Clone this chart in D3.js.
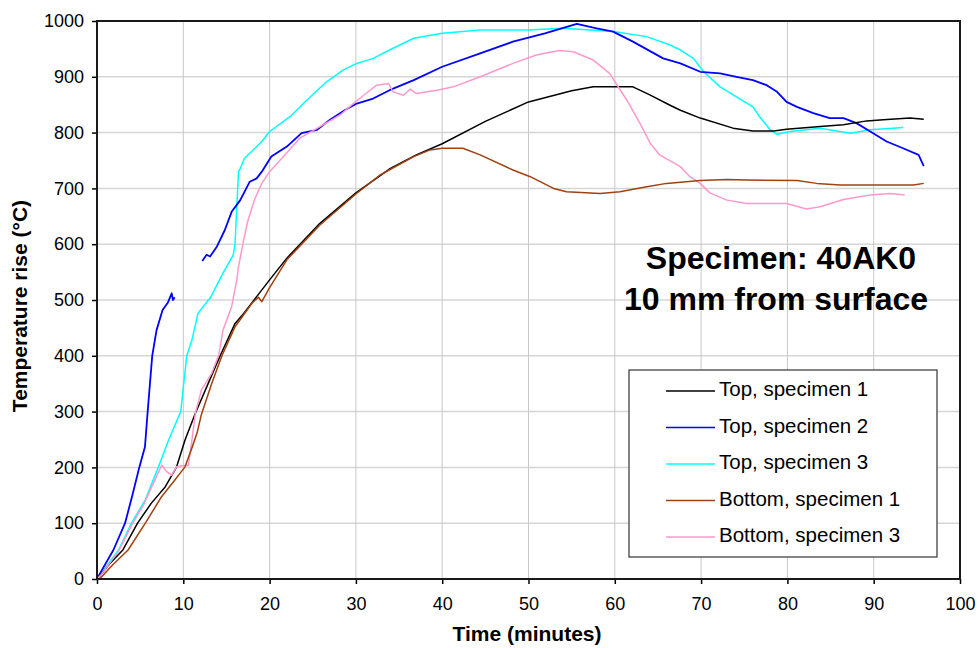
<!DOCTYPE html>
<html>
<head>
<meta charset="utf-8">
<script src="https://cdn.jsdelivr.net/npm/d3@7"></script>
<style>
  body { margin: 0; background: #fff; }
  svg { font-family: Arial, "Liberation Sans", sans-serif; }
</style>
</head>
<body>
<svg width="980" height="648"></svg>
<script>
// data: time (minutes) and temperature rise (°C)
let top1Time = [0, 0.3, 1.5, 3.0, 4.7, 6.3, 7.9, 9.2, 10.2, 11.4, 12.9, 14.3, 16, 17, 18.5, 20, 22, 25.8, 30, 34, 37, 40, 45, 50, 55, 57.5, 62.1, 64, 66.4, 67.6, 69.9, 73.7, 76, 78.4, 79.9, 83.8, 86.5, 89.2, 91.1, 94.2, 95.8];
let top1Temp = [0, 5, 28, 52, 100, 136, 165, 200, 249, 297, 351, 401, 458, 476, 506, 536, 575, 637, 692, 736, 760, 780, 820, 855, 875, 882, 882, 868, 849, 840, 826, 808, 803, 803, 806, 811, 814, 821, 823, 826, 824];

let top2TimeA = [0, 0.5, 1.9, 3.25, 4.1, 4.9, 5.56, 5.87, 6.4, 6.9, 7.6, 8.2, 8.65, 8.8, 9.0];
let top2TempA = [0, 14, 52, 100, 150, 200, 237, 300, 400, 446, 482, 495, 512, 500, 505];
let top2TimeB = [12.2, 12.7, 13.1, 13.9, 14.8, 15.6, 16.6, 17.7, 18.5, 19.1, 20.2, 22, 23.7, 25.5, 27, 28.7, 30.1, 32, 33.9, 36.7, 40, 44.4, 48.2, 51.9, 55.6, 57.9, 59.8, 62.1, 65.6, 67.6, 69.9, 72.2, 74.1, 76, 77.6, 78.8, 79.9, 81.1, 83, 84.9, 86.5, 88, 89.6, 91.5, 93.4, 95.2, 95.8];
let top2TempB = [570, 581, 578, 596, 625, 658, 679, 712, 718, 730, 757, 775, 799, 805, 823, 840, 852, 861, 876, 894, 918, 942, 963, 978, 995, 987, 981, 963, 933, 924, 909, 906, 900, 894, 885, 873, 855, 846, 835, 826, 826, 817, 802, 784, 772, 760, 740];

let top3Time = [0, 0.4, 2.5, 4.0, 5.6, 7.1, 8.3, 9.7, 10.1, 10.4, 11, 11.7, 12.9, 13.1, 14.6, 15.8, 16, 16.2, 16.4, 16.6, 17.1, 17.7, 18.5, 19.1, 20, 22.4, 24.3, 26.6, 28.5, 30.1, 32, 33.9, 36.7, 40, 44.4, 50, 54, 59.8, 63.7, 66.4, 67.6, 69.1, 70.3, 72.2, 74.1, 76, 76.8, 78, 78.8, 80.3, 83.8, 87.3, 89.6, 93.4];
let top3Temp = [0, 8, 52, 100, 142, 200, 249, 300, 357, 400, 428, 476, 500, 503, 548, 581, 602, 667, 730, 736, 754, 763, 775, 784, 802, 829, 858, 891, 912, 924, 933, 948, 969, 978, 984, 984, 987, 981, 972, 957, 948, 933, 909, 882, 864, 846, 828, 805, 797, 802, 808, 799, 805, 809];

let bot1Time = [0, 0.3, 1.8, 3.6, 5.6, 7.5, 9.0, 10.2, 11, 11.6, 12.1, 13.3, 14.5, 16, 18, 18.7, 19.1, 20, 22, 25.8, 30, 32.8, 36.7, 38.6, 40, 42.4, 44.4, 48.2, 50.2, 52.9, 54.4, 58.3, 60.6, 63.7, 66, 69.9, 73, 75.3, 81.1, 83.4, 86.1, 94.6, 95.8];
let bot1Temp = [0, 0, 25, 52, 100, 148, 177, 201, 235, 262, 295, 351, 401, 452, 495, 505, 497, 522, 572, 634, 690, 724, 757, 769, 772, 772, 760, 733, 721, 700, 694, 691, 694, 703, 709, 714, 716, 715, 714, 709, 706, 706, 709];

let bot3Time = [0, 0.4, 2.5, 4.0, 5.4, 7.5, 8.1, 8.65, 9.2, 9.9, 10.6, 11, 11.4, 12.1, 13.3, 14.1, 14.6, 15.6, 16.2, 16.4, 17, 17.5, 18.3, 19.1, 20, 21.6, 23.5, 26.2, 28.2, 29.7, 30.9, 32.4, 33.8, 34.3, 35.5, 36.3, 37, 39.4, 41.3, 44.4, 48.2, 50.9, 53.6, 55.2, 57.5, 59.4, 61.4, 62.9, 64.1, 65.2, 67.6, 68.7, 69.9, 71, 73, 75.3, 79.9, 82.2, 83.8, 86.5, 89.6, 91.9, 93.6];
let bot3Temp = [0, 6, 50, 96, 133, 204, 192, 186, 201, 203, 204, 249, 297, 339, 369, 401, 446, 488, 536, 560, 608, 643, 682, 709, 730, 757, 790, 814, 832, 852, 867, 885, 888, 873, 867, 878, 870, 876, 882, 900, 924, 939, 947, 945, 930, 906, 858, 817, 781, 760, 739, 721, 709, 692, 679, 673, 673, 663, 667, 680, 688, 691, 688];

let seriesNames = ["Top, specimen 1", "Top, specimen 2", "Top, specimen 3", "Bottom, specimen 1", "Bottom, specimen 3"];
let seriesColors = ["#000000", "#0000ff", "#00ffff", "#a0410e", "#ff99cc"];
let xTicks = [0, 10, 20, 30, 40, 50, 60, 70, 80, 90, 100];
let yTicks = [0, 100, 200, 300, 400, 500, 600, 700, 800, 900, 1000];

// plot box
let plotLeft = 97, plotRight = 960, plotTop = 21, plotBottom = 579;

let svg = d3.select("svg");

let xScale = d3.scaleLinear().domain([0, 100]).range([plotLeft, plotRight]);
let yScale = d3.scaleLinear().domain([0, 1000]).range([plotBottom, plotTop]);

// gridlines
svg.append("g")
   .selectAll("line")
   .data(yTicks)
   .enter()
   .append("line")
   .attr("x1", plotLeft).attr("x2", plotRight)
   .attr("y1", d => yScale(d)).attr("y2", d => yScale(d))
   .attr("stroke", "#d6d6d6")
   .attr("stroke-width", 1.5);

svg.append("g")
   .selectAll("line")
   .data(xTicks)
   .enter()
   .append("line")
   .attr("x1", d => xScale(d)).attr("x2", d => xScale(d))
   .attr("y1", plotTop).attr("y2", plotBottom)
   .attr("stroke", "#c8c8c8")
   .attr("stroke-width", 1);

// axes
let xAxis = d3.axisBottom(xScale).tickValues(xTicks).tickSize(5).tickPadding(13).tickFormat(d3.format("d"));
let yAxis = d3.axisLeft(yScale).tickValues(yTicks).tickSize(5).tickPadding(8).tickFormat(d3.format("d"));

let gx = svg.append("g").attr("transform", "translate(0," + plotBottom + ")").call(xAxis);
let gy = svg.append("g").attr("transform", "translate(" + plotLeft + ",0)").call(yAxis);
[gx, gy].forEach(g => {
  g.select(".domain").remove();
  g.selectAll("line").attr("stroke", "#000").attr("stroke-width", 1.5);
  g.selectAll("text").attr("font-size", 18).attr("fill", "#000").attr("font-family", "Arial, 'Liberation Sans', sans-serif");
});

// series lines
let makeLine = d3.line()
                 .defined(d => d != null)
                 .x(d => xScale(d[0]))
                 .y(d => yScale(d[1]));

let zipUp = (ts, vs) => ts.map((t, i) => [t, vs[i]]);

let seriesData = [
  zipUp(top1Time, top1Temp),
  zipUp(top2TimeA, top2TempA).concat([null], zipUp(top2TimeB, top2TempB)),
  zipUp(top3Time, top3Temp),
  zipUp(bot1Time, bot1Temp),
  zipUp(bot3Time, bot3Temp)
];

// pink and brown drawn over the others
let drawOrder = [2, 1, 0, 4, 3];
drawOrder.forEach(i => {
  svg.append("path")
     .datum(seriesData[i])
     .attr("d", makeLine)
     .attr("fill", "none")
     .attr("stroke", seriesColors[i])
     .attr("stroke-width", i == 1 ? 1.8 : 1.5)
     .attr("stroke-linejoin", "round");
});

// plot border
svg.append("rect")
   .attr("x", plotLeft).attr("y", plotTop)
   .attr("width", plotRight - plotLeft).attr("height", plotBottom - plotTop)
   .attr("fill", "none")
   .attr("stroke", "#1a1a1a")
   .attr("stroke-width", 2);

// axis titles
svg.append("text")
   .attr("x", 527)
   .attr("y", 641)
   .attr("text-anchor", "middle")
   .attr("font-size", 21)
   .attr("font-weight", "bold")
   .text("Time (minutes)");

svg.append("text")
   .attr("transform", "translate(27,306) rotate(-90)")
   .attr("text-anchor", "middle")
   .attr("font-size", 21)
   .attr("font-weight", "bold")
   .text("Temperature rise (°C)");

// annotation
svg.append("text")
   .attr("x", 781).attr("y", 269)
   .attr("text-anchor", "middle")
   .attr("font-size", 32)
   .attr("font-weight", "bold")
   .text("Specimen: 40AK0");
svg.append("text")
   .attr("x", 776).attr("y", 310)
   .attr("text-anchor", "middle")
   .attr("font-size", 32)
   .attr("font-weight", "bold")
   .text("10 mm from surface");

// legend
let legend = svg.append("g");
legend.append("rect")
      .attr("x", 629).attr("y", 370)
      .attr("width", 308).attr("height", 187)
      .attr("fill", "#fff")
      .attr("stroke", "#333")
      .attr("stroke-width", 1.2);

seriesNames.forEach((name, i) => {
  let yy = 391 + i * 36.5;
  legend.append("line")
        .attr("x1", 666).attr("x2", 715)
        .attr("y1", yy).attr("y2", yy)
        .attr("stroke", seriesColors[i])
        .attr("stroke-width", 1.5);
  legend.append("text")
        .attr("x", 719).attr("y", yy + 5)
        .attr("font-size", 20.5)
        .text(name);
});
</script>
</body>
</html>
